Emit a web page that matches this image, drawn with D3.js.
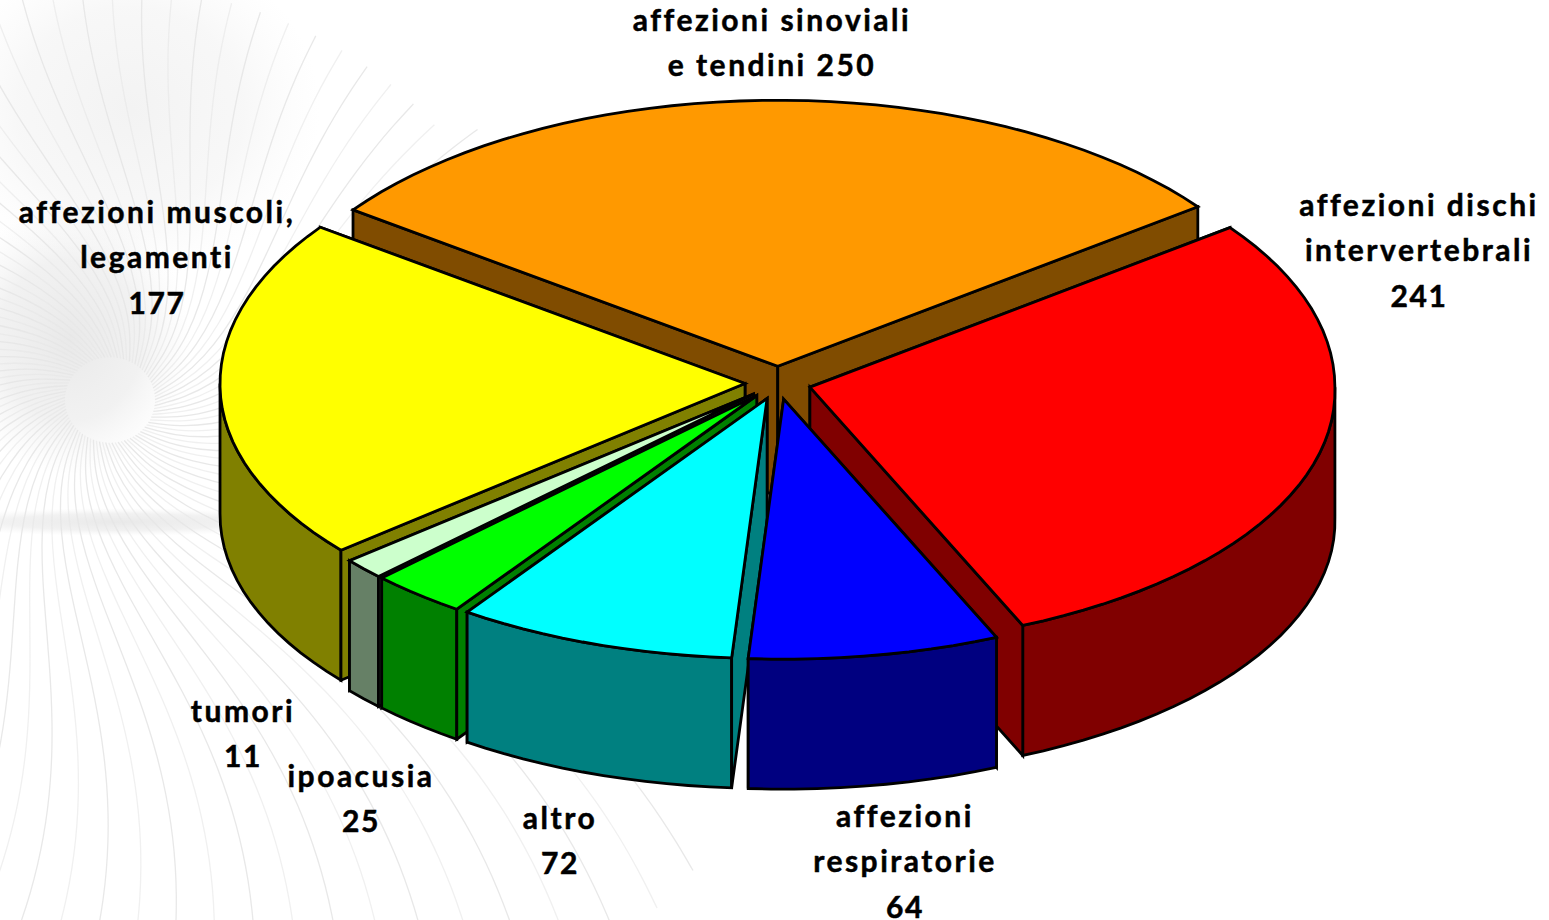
<!DOCTYPE html>
<html><head><meta charset="utf-8">
<script src="https://cdn.jsdelivr.net/npm/d3@7/dist/d3.min.js"></script>
<style>html,body{margin:0;padding:0;background:#fff;overflow:hidden}svg{display:block}</style>
</head><body><svg id="c" width="1549" height="920"></svg>
<script>
const categories = ["affezioni sinoviali e tendini","affezioni dischi intervertebrali","affezioni respiratorie","altro","ipoacusia","tumori","affezioni muscoli, legamenti"];
const values = [250,241,64,72,25,11,177];
const topColors = ["#FF9900","#FF0000","#0000FF","#00FFFF","#00FF00","#CCFFCC","#FFFF00"];
const sideColors = ["#804C00","#800000","#000080","#008080","#008000","#668066","#808000"];
const labelLines = [["affezioni sinoviali","e tendini 250"],["affezioni dischi","intervertebrali","241"],["affezioni","respiratorie","64"],["altro","72"],["ipoacusia","25"],["tumori","11"],["affezioni muscoli,","legamenti","177"]];
const labelAnchors = [[772,31],[1419,216],[905,827],[560,829],[361,787],[243,722],[157,223]];
const drawOrder = [0,1,6,5,4,3,2];

const W=1549,H=920,cx=778,cy=383,rx=525,ryBack=266,ryFront=260,depth=130,explode=33/525,flareRight=0.015,flareLeft=0.004;
const svg=d3.select("#c");
const deg=Math.PI/180;
const defs=svg.append("defs");
const blob=defs.append("radialGradient").attr("id","blob");
blob.append("stop").attr("offset",0).attr("stop-color","#e9e9e9").attr("stop-opacity",1);
blob.append("stop").attr("offset",0.6).attr("stop-color","#eeeeee").attr("stop-opacity",0.8);
blob.append("stop").attr("offset",1).attr("stop-color","#f4f4f4").attr("stop-opacity",0);

// faint watermark behind the chart
svg.append("ellipse").attr("cx",70).attr("cy",340).attr("rx",120).attr("ry",135).attr("fill","url(#blob)");
svg.append("ellipse").attr("cx",120).attr("cy",522).attr("rx",190).attr("ry",14).attr("fill","url(#blob)");
svg.append("ellipse").attr("cx",130).attr("cy",110).attr("rx",190).attr("ry",170).attr("fill","url(#blob)").attr("opacity",0.55);
const bg=svg.append("g").attr("fill","none").attr("stroke","#e6e6e6").attr("stroke-width",1.3);
const wline=d3.line().curve(d3.curveBasis);
for(let i=0;i<90;i++){
  const a0=i*4*deg, pts=[];
  const rmax=(a0>200*deg||a0<10*deg)?440+((a0+0.6)%1)*30:780;
  for(let r=45;r<rmax;r+=30){
    const t=a0+1.5*Math.exp(-r/170)+0.25*r/400;
    pts.push([110+r*Math.cos(t),400+r*Math.sin(t)*0.95]);
  }
  bg.append("path").attr("d",wline(pts)).attr("opacity",i%2?0.9:0.6);
}

// pie geometry
const arcs=d3.pie().sort(null).value(d=>d).startAngle(-54*deg).endAngle(306*deg)(values);
const px=d3.scaleLinear().domain([-1,1]).range([-rx,rx]);
const py=d3.scaleLinear().domain([-1,0,1]).range([-ryBack,0,ryFront]);
const line=d3.line();
const g=svg.append("g").attr("stroke","#000").attr("stroke-width",2.8).attr("stroke-linejoin","miter").attr("stroke-miterlimit",6);
const norm=a=>((a%(2*Math.PI))+2*Math.PI)%(2*Math.PI);

drawOrder.forEach(i=>{
  const a=arcs[i], mid=(a.startAngle+a.endAngle)/2;
  const c=[cx+explode*px(Math.sin(mid)), cy+explode*py(-Math.cos(mid))];
  const rim=t=>{const k=1+(Math.sin(t)>0?flareRight:flareLeft)*Math.max(0,-Math.cos(t));return [c[0]+k*px(Math.sin(t)), c[1]+py(-Math.cos(t))]};
  const drop=p=>[p[0],p[1]+depth];
  const samples=(s,e)=>{const n=Math.max(2,Math.ceil((e-s)/(2.5*deg)));return d3.range(n+1).map(k=>s+(e-s)*k/n)};
  const wall=t=>{const p=rim(t);return [c,p,drop(p),drop(c)]};
  const startFront=norm(a.startAngle)>Math.PI, endFront=norm(a.endAngle)<Math.PI;
  const shape=(pts,fill)=>g.append("path").attr("d",line(pts)+"Z").attr("fill",fill);
  if(!startFront) shape(wall(a.startAngle),sideColors[i]);
  if(!endFront) shape(wall(a.endAngle),sideColors[i]);
  const s=Math.max(a.startAngle,90*deg), e=Math.min(a.endAngle,270*deg);
  if(e>s){const top=samples(s,e).map(rim);shape(top.concat(top.slice().reverse().map(drop)),sideColors[i]);}
  if(startFront) shape(wall(a.startAngle),sideColors[i]);
  if(endFront) shape(wall(a.endAngle),sideColors[i]);
  shape([c].concat(samples(a.startAngle,a.endAngle).map(rim)),topColors[i]);
});

// labels
const lg=svg.append("g").attr("text-anchor","middle").attr("font-family","Lato, 'Open Sans', sans-serif").attr("font-weight",700).attr("font-size",30).attr("fill","#000").attr("stroke","#000").attr("stroke-width",0.5);
labelLines.forEach((ls,i)=>ls.forEach((t,k)=>lg.append("text").attr("x",labelAnchors[i][0]).attr("y",labelAnchors[i][1]+k*45.3).attr("letter-spacing",/^\d+$/.test(t)?1.6:2.5).text(t)));
</script></body></html>
